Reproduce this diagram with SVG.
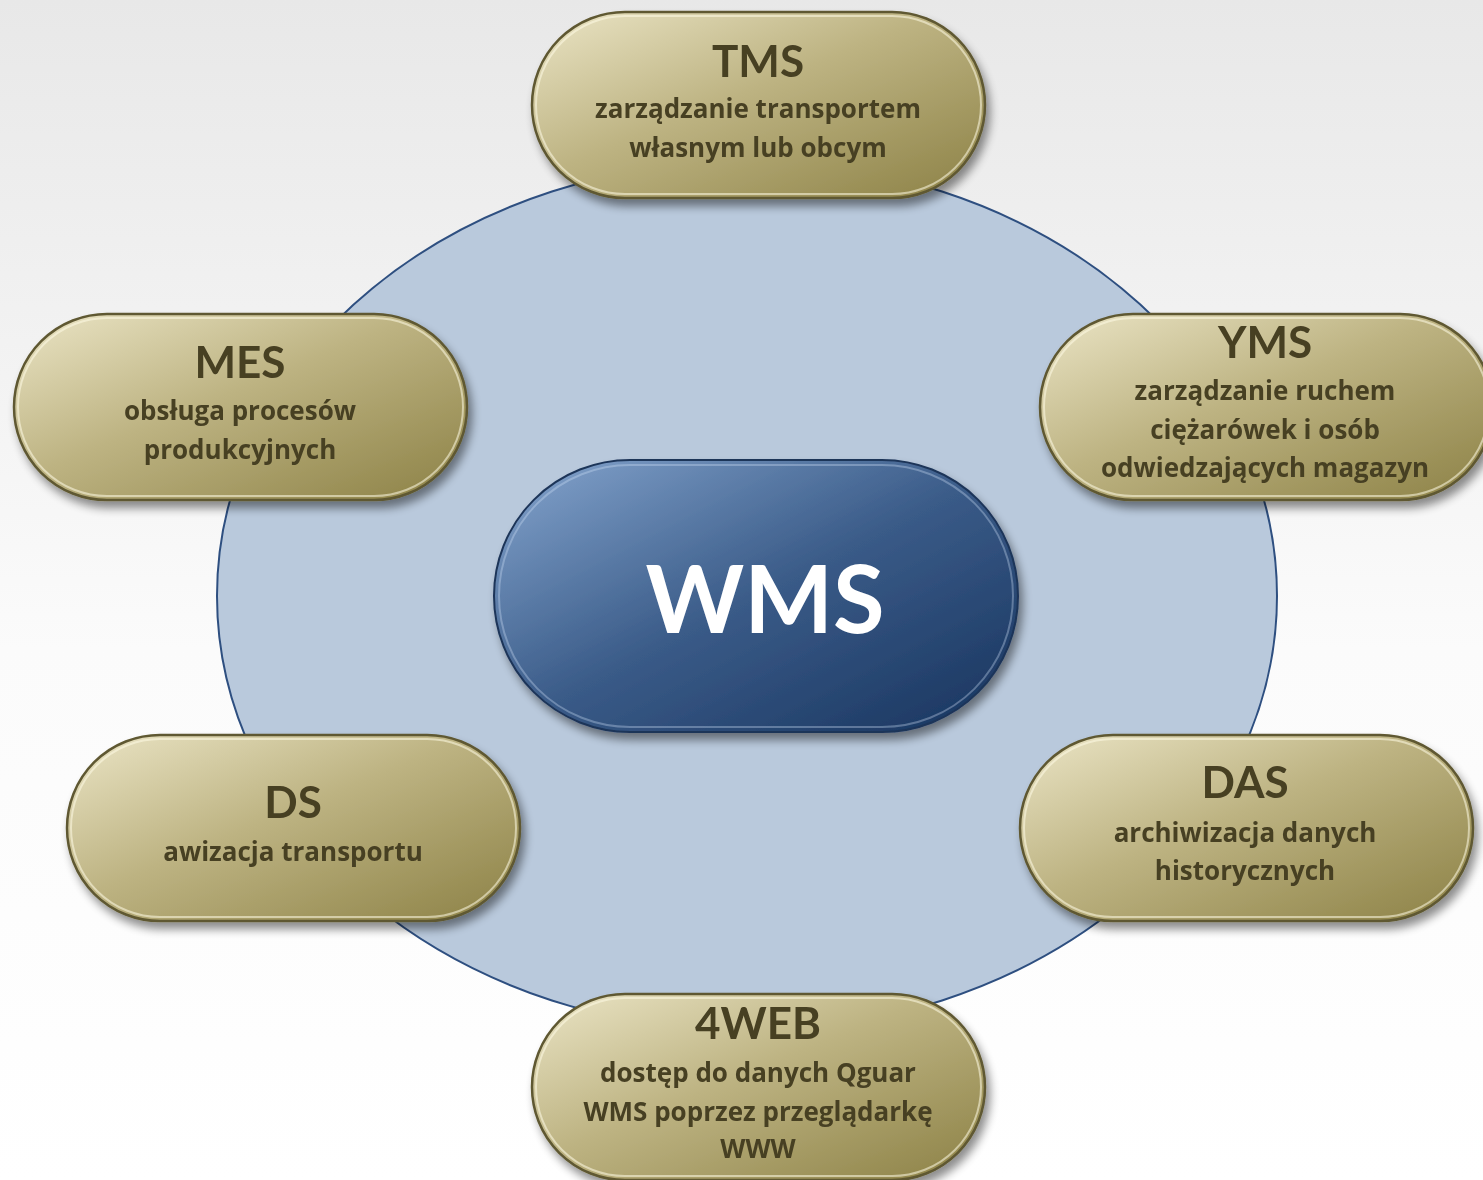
<svg xmlns="http://www.w3.org/2000/svg" width="1483" height="1180" viewBox="0 0 1483 1180">
<defs>
<linearGradient id="bg" x1="0" y1="0" x2="0" y2="1">
<stop offset="0" stop-color="#e8e8e8"/><stop offset="0.55" stop-color="#fbfbfb"/><stop offset="1" stop-color="#ffffff"/>
</linearGradient>
<linearGradient id="gold" x1="0" y1="0" x2="1" y2="1">
<stop offset="0" stop-color="#ebe5c6"/><stop offset="0.45" stop-color="#bdb382"/><stop offset="1" stop-color="#8c8145"/>
</linearGradient>
<linearGradient id="blue" x1="0" y1="0" x2="1" y2="1">
<stop offset="0" stop-color="#86a6cf"/><stop offset="0.5" stop-color="#3a5b88"/><stop offset="1" stop-color="#17335d"/>
</linearGradient>
<filter id="sh" x="-10%" y="-10%" width="125%" height="135%">
<feGaussianBlur in="SourceAlpha" stdDeviation="5"/>
<feOffset dx="4" dy="7" result="b"/>
<feComponentTransfer><feFuncA type="linear" slope="0.45"/></feComponentTransfer>
<feMerge><feMergeNode/><feMergeNode in="SourceGraphic"/></feMerge>
</filter>
</defs>
<style>
.pill{fill:url(#gold);stroke:#5f5831;stroke-width:2.5}
.hl{fill:none;stroke:#fffbe6;stroke-opacity:0.55;stroke-width:2}
.t{font-weight:bold;fill:#463f24;text-anchor:middle}
.h{font-family:Lato,"Liberation Sans",sans-serif;font-size:44px}
.s{font-family:"Open Sans","Liberation Sans",sans-serif;font-size:26px}
</style>
<rect x="0" y="0" width="1483" height="1180" fill="url(#bg)"/>
<g id="connectors">
<ellipse cx="747" cy="596" rx="530" ry="435" fill="#b9c9dc" stroke="#2e4f80" stroke-width="2"/>
</g>
<g id="wms" filter="url(#sh)">
<rect x="494" y="460" width="524" height="272" rx="136" fill="url(#blue)" stroke="#1d3459" stroke-width="2"/>
<rect x="499" y="465" width="514" height="262" rx="131" fill="none" stroke="#cfe0f5" stroke-opacity="0.35" stroke-width="2"/>
<text x="765" y="633" font-family="Lato,'Liberation Sans',sans-serif" font-weight="bold" font-size="94" fill="#ffffff" text-anchor="middle">WMS</text>
</g>
<g id="tms" filter="url(#sh)">
<rect class="pill" x="532" y="12" width="453" height="186" rx="93"/>
<rect class="hl" x="536" y="16" width="445" height="178" rx="89"/>
<text class="t h" x="758" y="77">TMS</text>
<text class="t s" x="758" y="118">zarządzanie transportem</text>
<text class="t s" x="758" y="157">własnym lub obcym</text>
</g>
<g id="mes" filter="url(#sh)">
<rect class="pill" x="14" y="314" width="453" height="186" rx="93"/>
<rect class="hl" x="18" y="318" width="445" height="178" rx="89"/>
<text class="t h" x="240" y="378">MES</text>
<text class="t s" x="240" y="420">obsługa procesów</text>
<text class="t s" x="240" y="459">produkcyjnych</text>
</g>
<g id="yms" filter="url(#sh)">
<rect class="pill" x="1040" y="314" width="453" height="186" rx="93"/>
<rect class="hl" x="1044" y="318" width="445" height="178" rx="89"/>
<text class="t h" x="1265" y="358">YMS</text>
<text class="t s" x="1265" y="400">zarządzanie ruchem</text>
<text class="t s" x="1265" y="439">ciężarówek i osób</text>
<text class="t s" x="1265" y="477">odwiedzających magazyn</text>
</g>
<g id="ds" filter="url(#sh)">
<rect class="pill" x="67" y="735" width="453" height="186" rx="93"/>
<rect class="hl" x="71" y="739" width="445" height="178" rx="89"/>
<text class="t h" x="293" y="818">DS</text>
<text class="t s" x="293" y="861">awizacja transportu</text>
</g>
<g id="das" filter="url(#sh)">
<rect class="pill" x="1020" y="735" width="453" height="186" rx="93"/>
<rect class="hl" x="1024" y="739" width="445" height="178" rx="89"/>
<text class="t h" x="1245" y="798">DAS</text>
<text class="t s" x="1245" y="842">archiwizacja danych</text>
<text class="t s" x="1245" y="880">historycznych</text>
</g>
<g id="web" filter="url(#sh)">
<rect class="pill" x="532" y="994" width="453" height="186" rx="93"/>
<rect class="hl" x="536" y="998" width="445" height="178" rx="89"/>
<text class="t h" x="758" y="1039">4WEB</text>
<text class="t s" x="758" y="1082">dostęp do danych Qguar</text>
<text class="t s" x="758" y="1121">WMS poprzez przeglądarkę</text>
<text class="t s" x="758" y="1158">WWW</text>
</g>
</svg>
